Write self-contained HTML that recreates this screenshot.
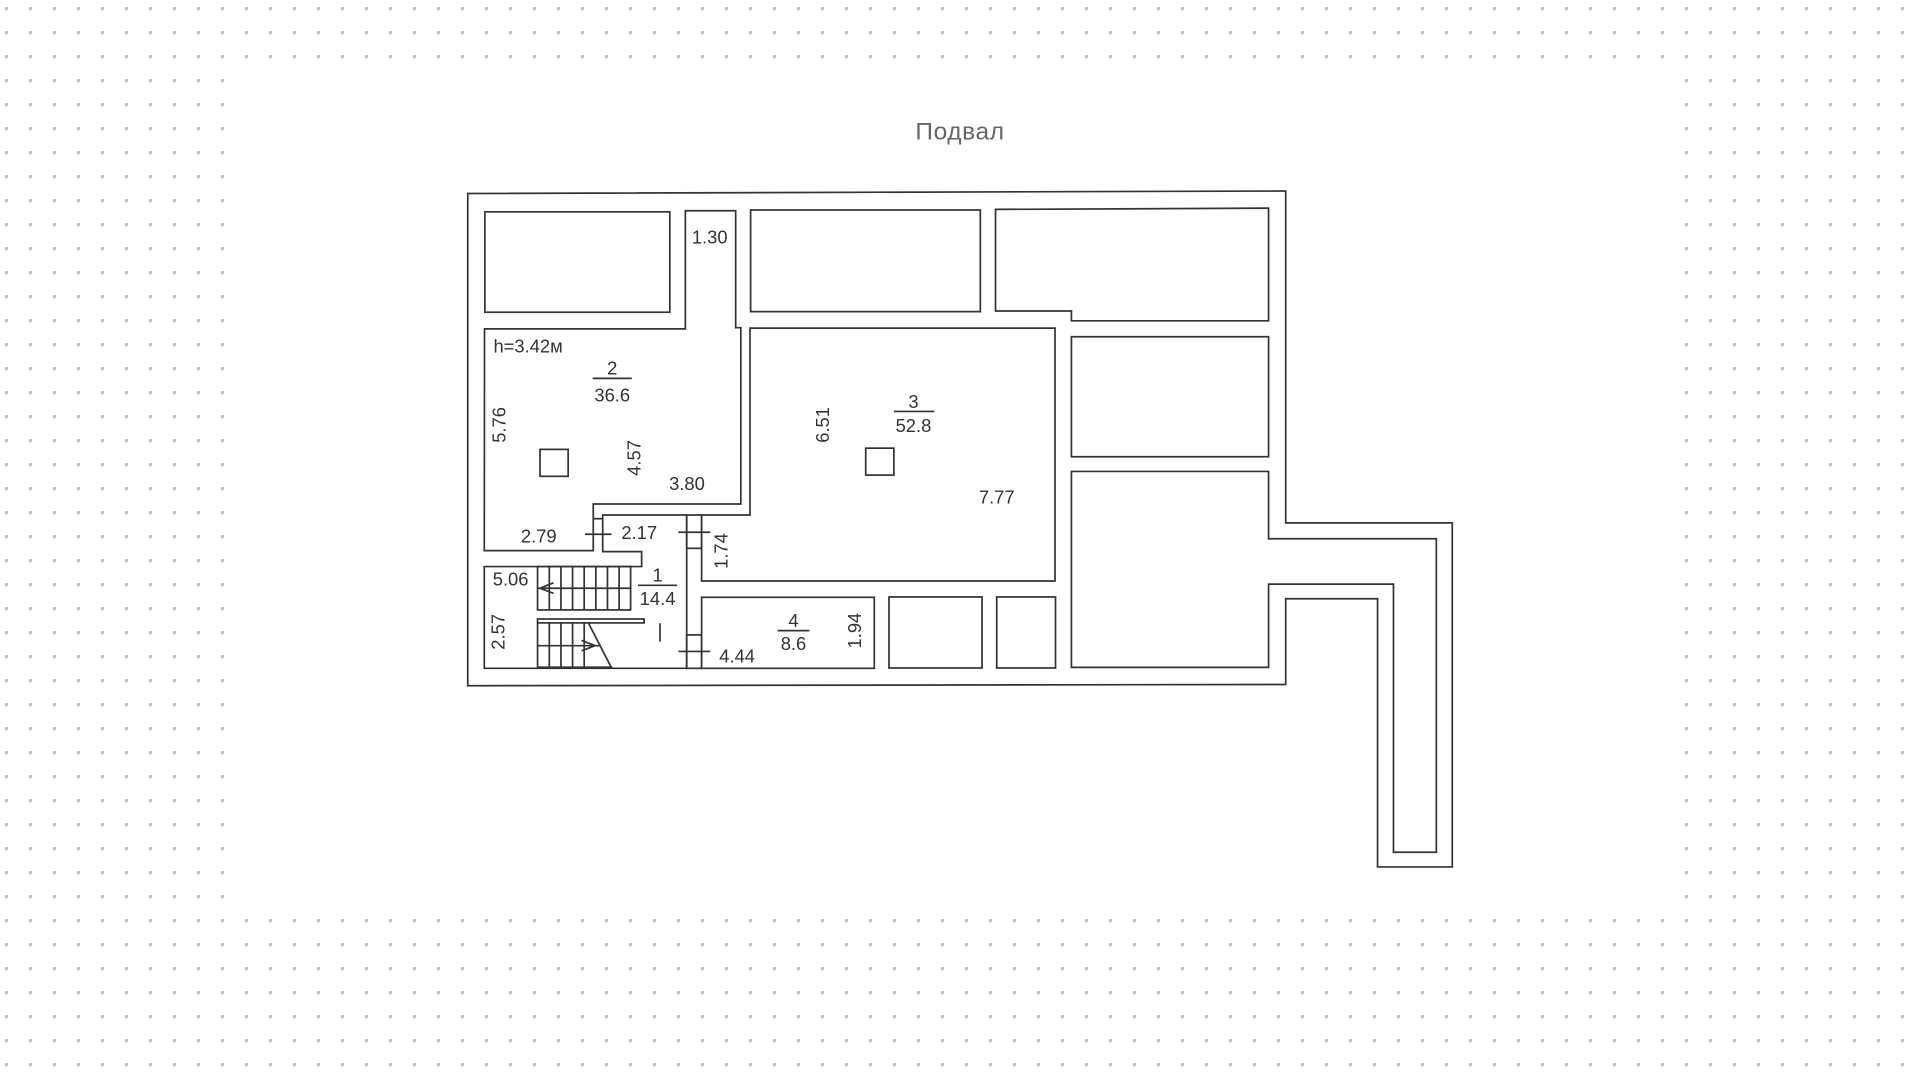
<!DOCTYPE html>
<html><head><meta charset="utf-8"><style>
html,body{margin:0;padding:0;background:#fff;}
svg{display:block;}
text{font-family:"Liberation Sans",sans-serif;fill:#333;}
</style></head><body>
<svg width="1920" height="1078" viewBox="0 0 1920 1078" xmlns="http://www.w3.org/2000/svg">
<defs>
<pattern id="dots" x="0" y="0" width="24" height="24" patternUnits="userSpaceOnUse">
<rect x="5" y="7" width="3" height="3" fill="#bdbdbd"/>
</pattern>
</defs>
<rect width="1920" height="1078" fill="url(#dots)"/>
<rect x="232" y="68" width="1448" height="838" fill="#fff"/>
<g transform="scale(1.22449)" fill="none" stroke="#333" stroke-width="1.4">
<text x="784" y="114" text-anchor="middle" font-size="20" style="fill:#666;stroke:none;letter-spacing:0.5px">Подвал</text>
<polygon points="382,158 1050,156 1050,427 1186,427 1186,708 1125,708 1125,489 1050,489 1050,559 382,560"/>
<rect x="396" y="173" width="151" height="82"/>
<rect x="613" y="171.5" width="187.6" height="83"/>
<polygon points="813,171 1036,170 1036,262 875,262 875,254 813,254"/>
<rect x="875" y="275" width="161" height="98"/>
<polygon points="875,385 1036,385 1036,440 1173,440 1173,696 1138,696 1138,477 1036,477 1036,545 875,545"/>
<polygon points="395.7,268.6 559.7,268.6 559.7,172.1 600.8,172.1 600.8,267.6 605,267.6 605,411.6 484.5,411.6 484.5,449.7 395.5,449.7"/>
<polygon points="492.2,420.6 560.8,420.6 560.8,545.8 395.5,545.8 395.5,462.7 524,462.7 524,450.5 492.2,450.5"/>
<polygon points="573,420.6 612.5,420.6 612.5,268 861.6,268 861.6,474.5 573,474.5"/>
<rect x="560.8" y="420.6" width="12.2" height="27.2"/>
<rect x="560.8" y="518.5" width="12.2" height="27.3"/>
<line x1="484.5" y1="423.6" x2="492.2" y2="423.6"/>
<rect x="573" y="487.8" width="141" height="58"/>
<rect x="726" y="487.5" width="76" height="58"/>
<rect x="814" y="487.5" width="48" height="58"/>
<rect x="441" y="367" width="23" height="22"/>
<rect x="707" y="366" width="23" height="22"/>
<line x1="477.8" y1="436.3" x2="499.5" y2="436.3"/>
<line x1="554" y1="434.7" x2="580" y2="434.7"/>
<line x1="554" y1="532" x2="580" y2="532"/>
<line x1="539" y1="509" x2="539" y2="524"/>
<rect x="439" y="462.7" width="76" height="35.4"/>
<line x1="439" y1="480.4" x2="515" y2="480.4"/>
<path d="M448.6,462.7V498.1M458.1,462.7V498.1M467.6,462.7V498.1M477.1,462.7V498.1M486.6,462.7V498.1M496.1,462.7V498.1M505.6,462.7V498.1"/>
<path d="M452,476 L441,480.4 L452,484.5"/>
<rect x="439" y="505.5" width="87" height="3.2"/>
<path d="M439,508.7V545.8M448.6,508.7V545.8M458.1,508.7V545.8M467.6,508.7V545.8M477.1,508.7V545.8M480.5,508.7L499.6,545.8M439,527.3H490"/>
<path d="M475,523 L486,527.3 L475,531.5"/>
<line x1="439" y1="545.3" x2="499.6" y2="545.3" stroke-width="2.2"/>
<line x1="484" y1="309" x2="516" y2="309"/>
<line x1="730" y1="336" x2="763" y2="336"/>
<line x1="521" y1="478" x2="553" y2="478"/>
<line x1="635" y1="515" x2="661" y2="515"/>
</g>
<g transform="scale(1.22449)" font-size="15">
<text x="565" y="199">1.30</text>
<text x="403" y="288">h=3.42м</text>
<text x="500" y="306" text-anchor="middle">2</text>
<text x="500" y="328" text-anchor="middle">36.6</text>
<text x="746" y="333" text-anchor="middle">3</text>
<text x="746" y="353" text-anchor="middle">52.8</text>
<text x="561" y="400" text-anchor="middle">3.80</text>
<text x="814" y="411" text-anchor="middle">7.77</text>
<text x="440" y="443" text-anchor="middle">2.79</text>
<text x="522" y="440" text-anchor="middle">2.17</text>
<text x="417" y="478" text-anchor="middle">5.06</text>
<text x="537" y="475" text-anchor="middle">1</text>
<text x="537" y="494" text-anchor="middle">14.4</text>
<text x="648" y="512" text-anchor="middle">4</text>
<text x="648" y="531" text-anchor="middle">8.6</text>
<text x="602" y="541" text-anchor="middle">4.44</text>
<text transform="translate(413,347) rotate(-90)" text-anchor="middle">5.76</text>
<text transform="translate(523,374) rotate(-90)" text-anchor="middle">4.57</text>
<text transform="translate(677,347) rotate(-90)" text-anchor="middle">6.51</text>
<text transform="translate(594,450) rotate(-90)" text-anchor="middle">1.74</text>
<text transform="translate(412,516) rotate(-90)" text-anchor="middle">2.57</text>
<text transform="translate(703,515) rotate(-90)" text-anchor="middle">1.94</text>
</g>
</svg>
</body></html>
